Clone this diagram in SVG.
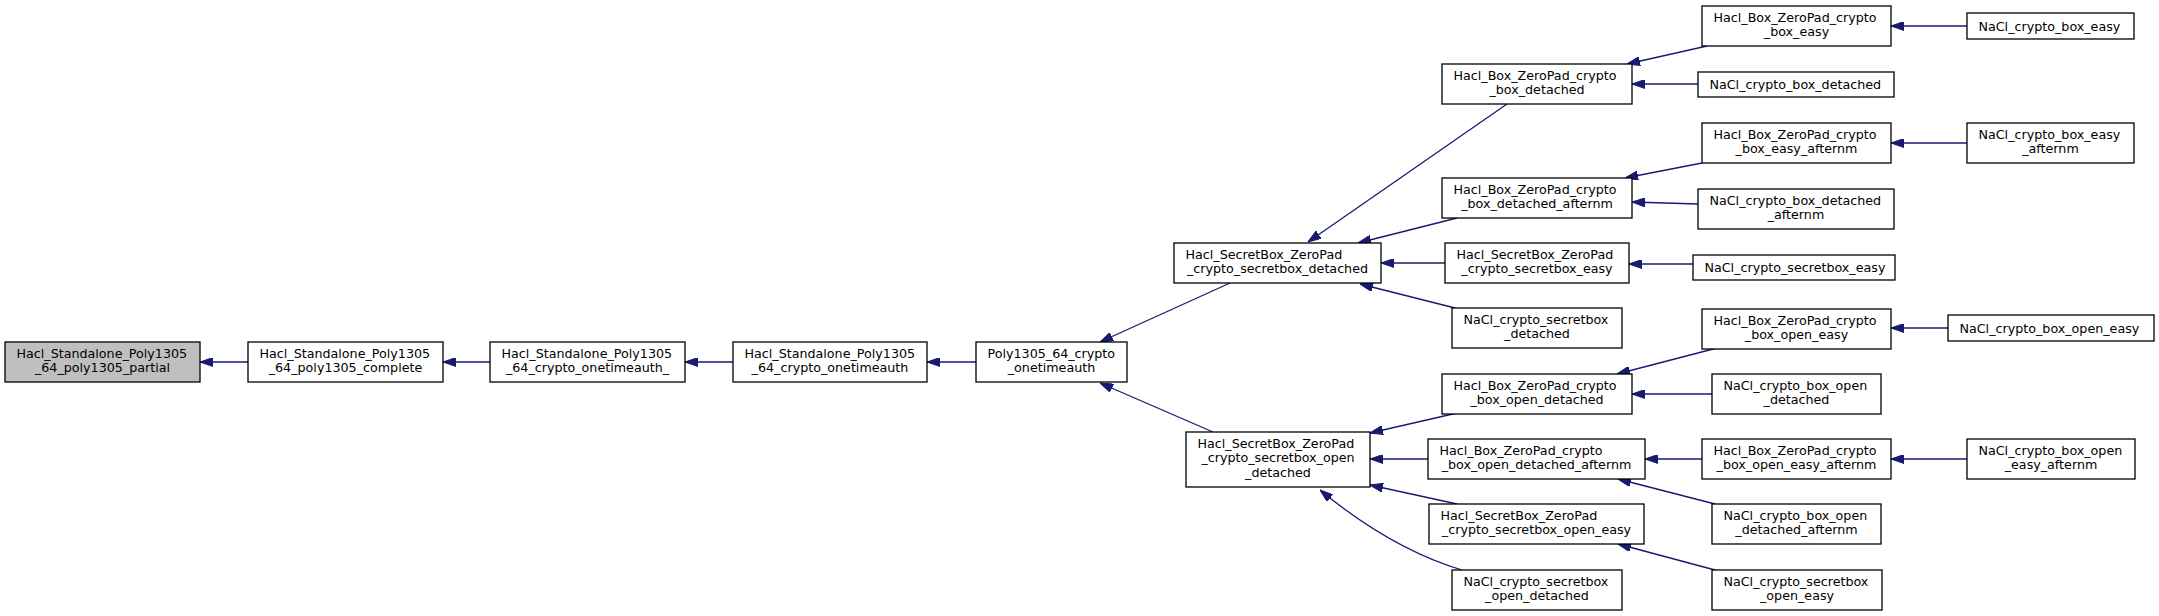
<svg xmlns="http://www.w3.org/2000/svg" width="2159" height="616" viewBox="0 0 2159 616">
<style>
.n rect{fill:#ffffff;stroke:#000000;stroke-width:1.3}
.n.hl rect{fill:#bfbfbf}
.n text{font-family:"DejaVu Sans","Liberation Sans",sans-serif;font-size:12.7px;fill:#000000}
.n text.s{text-anchor:start}
.n text.m{text-anchor:middle}
#edges path{fill:none;stroke:#191970;stroke-width:1.3;marker-end:url(#ah)}
</style>
<defs>
<marker id="ah" viewBox="0 0 13 9" refX="13" refY="4.5" markerWidth="13" markerHeight="9" markerUnits="userSpaceOnUse" orient="auto">
<path d="M0,0 L13,4.5 L0,9 z" fill="#191970" stroke="#191970" stroke-width="1"/>
</marker>
</defs>
<rect width="2159" height="616" fill="#ffffff"/>
<g id="edges">
<path d="M248,362 L200,362"/>
<path d="M490,362 L443,362"/>
<path d="M733,362 L685,362"/>
<path d="M976,362 L927,362"/>
<path d="M1230,283 L1100,342"/>
<path d="M1213,432 L1100,383"/>
<path d="M1507,104 L1308,242"/>
<path d="M1457,218 L1358,243"/>
<path d="M1445,263 L1381,263"/>
<path d="M1455,308 L1360,284"/>
<path d="M1457,413 L1370,433"/>
<path d="M1428,459 L1370,459"/>
<path d="M1457,504 L1370,485"/>
<path d="M1462,570 C1415,556 1365,527 1320,490"/>
<path d="M1707,46 L1627,64"/>
<path d="M1698,84 L1632,84"/>
<path d="M1702,163 L1625,178"/>
<path d="M1698,204 L1632,202"/>
<path d="M1693,264 L1629,264"/>
<path d="M1717,348 L1617,374"/>
<path d="M1712,394 L1632,394"/>
<path d="M1702,459 L1645,459"/>
<path d="M1715,504 L1618,479"/>
<path d="M1715,570 L1618,544"/>
<path d="M1967,26 L1891,26"/>
<path d="M1967,143 L1891,143"/>
<path d="M1948,328 L1891,328"/>
<path d="M1967,459 L1891,459"/>
</g>
<g id="n0" class="n hl"><rect x="5" y="342" width="195" height="40"/><text class="s" x="16.5" y="357.5">Hacl_Standalone_Poly1305</text><text class="m" x="102.5" y="372">_64_poly1305_partial</text></g>
<g id="n1" class="n"><rect x="248" y="342" width="195" height="40"/><text class="s" x="259.5" y="357.5">Hacl_Standalone_Poly1305</text><text class="m" x="345.5" y="372">_64_poly1305_complete</text></g>
<g id="n2" class="n"><rect x="490" y="342" width="195" height="40"/><text class="s" x="501.5" y="357.5">Hacl_Standalone_Poly1305</text><text class="m" x="587.5" y="372">_64_crypto_onetimeauth_</text></g>
<g id="n3" class="n"><rect x="733" y="342" width="194" height="40"/><text class="s" x="744.5" y="357.5">Hacl_Standalone_Poly1305</text><text class="m" x="830" y="372">_64_crypto_onetimeauth</text></g>
<g id="n4" class="n"><rect x="976" y="342" width="151" height="40"/><text class="s" x="987.5" y="357.5">Poly1305_64_crypto</text><text class="m" x="1051.5" y="372">_onetimeauth</text></g>
<g id="n5" class="n"><rect x="1174" y="243" width="207" height="40"/><text class="s" x="1185.5" y="258.5">Hacl_SecretBox_ZeroPad</text><text class="m" x="1277.5" y="273">_crypto_secretbox_detached</text></g>
<g id="n6" class="n"><rect x="1186" y="432" width="184" height="55"/><text class="s" x="1197.5" y="447.5">Hacl_SecretBox_ZeroPad</text><text class="m" x="1278" y="462">_crypto_secretbox_open</text><text class="m" x="1278" y="476.5">_detached</text></g>
<g id="n7" class="n"><rect x="1442" y="64" width="190" height="40"/><text class="s" x="1453.5" y="79.5">Hacl_Box_ZeroPad_crypto</text><text class="m" x="1537" y="94">_box_detached</text></g>
<g id="n8" class="n"><rect x="1442" y="178" width="190" height="40"/><text class="s" x="1453.5" y="193.5">Hacl_Box_ZeroPad_crypto</text><text class="m" x="1537" y="208">_box_detached_afternm</text></g>
<g id="n9" class="n"><rect x="1445" y="243" width="184" height="40"/><text class="s" x="1456.5" y="258.5">Hacl_SecretBox_ZeroPad</text><text class="m" x="1537" y="273">_crypto_secretbox_easy</text></g>
<g id="n10" class="n"><rect x="1452" y="308" width="170" height="40"/><text class="s" x="1463.5" y="323.5">NaCl_crypto_secretbox</text><text class="m" x="1537" y="338">_detached</text></g>
<g id="n11" class="n"><rect x="1442" y="374" width="190" height="40"/><text class="s" x="1453.5" y="389.5">Hacl_Box_ZeroPad_crypto</text><text class="m" x="1537" y="404">_box_open_detached</text></g>
<g id="n12" class="n"><rect x="1428" y="439" width="217" height="40"/><text class="s" x="1439.5" y="454.5">Hacl_Box_ZeroPad_crypto</text><text class="m" x="1536.5" y="469">_box_open_detached_afternm</text></g>
<g id="n13" class="n"><rect x="1429" y="504" width="215" height="40"/><text class="s" x="1440.5" y="519.5">Hacl_SecretBox_ZeroPad</text><text class="m" x="1536.5" y="534">_crypto_secretbox_open_easy</text></g>
<g id="n14" class="n"><rect x="1452" y="570" width="170" height="40"/><text class="s" x="1463.5" y="585.5">NaCl_crypto_secretbox</text><text class="m" x="1537" y="600">_open_detached</text></g>
<g id="n15" class="n"><rect x="1702" y="6" width="189" height="40"/><text class="s" x="1713.5" y="21.5">Hacl_Box_ZeroPad_crypto</text><text class="m" x="1796.5" y="36">_box_easy</text></g>
<g id="n16" class="n"><rect x="1698" y="72" width="196" height="25"/><text class="s" x="1709.5" y="88.5">NaCl_crypto_box_detached</text></g>
<g id="n17" class="n"><rect x="1702" y="123" width="189" height="40"/><text class="s" x="1713.5" y="138.5">Hacl_Box_ZeroPad_crypto</text><text class="m" x="1796.5" y="153">_box_easy_afternm</text></g>
<g id="n18" class="n"><rect x="1698" y="189" width="196" height="40"/><text class="s" x="1709.5" y="204.5">NaCl_crypto_box_detached</text><text class="m" x="1796" y="219">_afternm</text></g>
<g id="n19" class="n"><rect x="1693" y="255" width="202" height="25"/><text class="s" x="1704.5" y="271.5">NaCl_crypto_secretbox_easy</text></g>
<g id="n20" class="n"><rect x="1702" y="309" width="189" height="40"/><text class="s" x="1713.5" y="324.5">Hacl_Box_ZeroPad_crypto</text><text class="m" x="1796.5" y="339">_box_open_easy</text></g>
<g id="n21" class="n"><rect x="1712" y="374" width="169" height="40"/><text class="s" x="1723.5" y="389.5">NaCl_crypto_box_open</text><text class="m" x="1796.5" y="404">_detached</text></g>
<g id="n22" class="n"><rect x="1702" y="439" width="189" height="40"/><text class="s" x="1713.5" y="454.5">Hacl_Box_ZeroPad_crypto</text><text class="m" x="1796.5" y="469">_box_open_easy_afternm</text></g>
<g id="n23" class="n"><rect x="1712" y="504" width="169" height="40"/><text class="s" x="1723.5" y="519.5">NaCl_crypto_box_open</text><text class="m" x="1796.5" y="534">_detached_afternm</text></g>
<g id="n24" class="n"><rect x="1712" y="570" width="170" height="40"/><text class="s" x="1723.5" y="585.5">NaCl_crypto_secretbox</text><text class="m" x="1797" y="600">_open_easy</text></g>
<g id="n25" class="n"><rect x="1967" y="13" width="167" height="26"/><text class="s" x="1978.5" y="30.5">NaCl_crypto_box_easy</text></g>
<g id="n26" class="n"><rect x="1967" y="123" width="167" height="40"/><text class="s" x="1978.5" y="138.5">NaCl_crypto_box_easy</text><text class="m" x="2050.5" y="153">_afternm</text></g>
<g id="n27" class="n"><rect x="1948" y="315" width="206" height="26"/><text class="s" x="1959.5" y="332.5">NaCl_crypto_box_open_easy</text></g>
<g id="n28" class="n"><rect x="1967" y="439" width="168" height="40"/><text class="s" x="1978.5" y="454.5">NaCl_crypto_box_open</text><text class="m" x="2051" y="469">_easy_afternm</text></g>
</svg>
